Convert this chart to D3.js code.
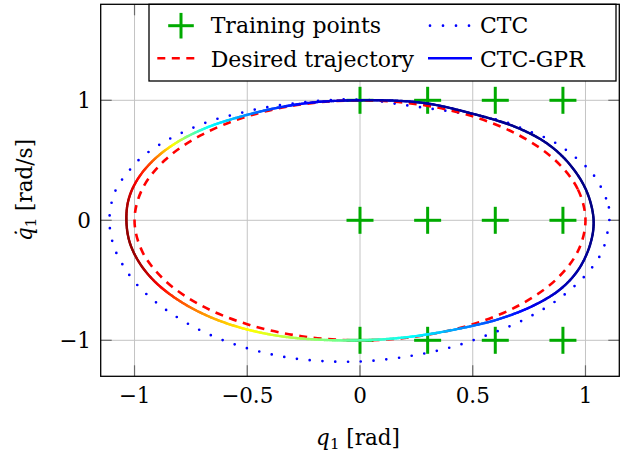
<!DOCTYPE html>
<html lang="en">
<head>
<meta charset="UTF-8">
<title>CTC vs CTC-GPR phase portrait</title>
<script src="https://d3js.org/d3.v7.min.js"></script>
<style>
  body { margin: 0; background: #fff; }
  svg { display: block; font-family: "DejaVu Serif", "Liberation Serif", serif; }
  .grid line { stroke: #c4c4c4; stroke-width: 1; }
  .tickmark { stroke: #6a6a6a; stroke-width: 1.2; }
</style>
</head>
<body>
<div id="chart"></div>
<script>
// axis ticks
const xTicks = [-1, -0.5, 0, 0.5, 1];
const yTicks = [-1, 0, 1];

// training inputs (grid of q1 x q1dot)
const trainQ = [0, 0.3, 0.6, 0.9];
const trainQd = [-1, 0, 1];

// desired trajectory
const desQ  = [1, 0.966, 0.866, 0.707, 0.5, 0.259, 0, -0.259, -0.5, -0.707, -0.866, -0.966,
               -1, -0.966, -0.866, -0.707, -0.5, -0.259, 0, 0.259, 0.5, 0.707, 0.866, 0.966];
const desQd = [0, 0.259, 0.5, 0.707, 0.866, 0.966, 1, 0.966, 0.866, 0.707, 0.5, 0.259,
               0, -0.259, -0.5, -0.707, -0.866, -0.966, -1, -0.966, -0.866, -0.707, -0.5, -0.259];

// CTC response (blue dotted)
const ctcQ  = [1.107, 1.091, 1.036, 0.95, 0.853, 0.745, 0.634, 0.518, 0.403, 0.289, 0.17, 0.052,
               -0.077, -0.195, -0.312, -0.429, -0.546, -0.657, -0.767, -0.873, -0.969, -1.009,
               -1.048, -1.08, -1.1, -1.11, -1.11, -1.1, -1.081, -1.054, -1.021, -0.984, -0.943,
               -0.898, -0.849, -0.749, -0.641, -0.531, -0.417, -0.302, -0.183, -0.065, 0.052,
               0.229, 0.4, 0.567, 0.728, 0.882, 1.012, 1.076, 1.103];
const ctcQd = [0.07, 0.183, 0.377, 0.533, 0.66, 0.746, 0.826, 0.871, 0.907, 0.937, 0.968, 1.0,
               1.007, 0.993, 0.97, 0.937, 0.887, 0.832, 0.749, 0.649, 0.524, 0.446,
               0.358, 0.266, 0.16, 0.05, -0.053, -0.164, -0.27, -0.366, -0.461, -0.547, -0.622,
               -0.694, -0.761, -0.877, -0.974, -1.049, -1.107, -1.149, -1.171, -1.179, -1.171,
               -1.129, -1.06, -0.955, -0.827, -0.655, -0.433, -0.25, -0.039];

// CTC-GPR response (coloured solid)
const gprQ  = [1.036, 1.006, 0.933, 0.829, 0.688, 0.496, 0.296, 0.1, -0.18, -0.354, -0.518,
               -0.675, -0.808, -0.912, -0.985, -1.026, -1.036, -1.022, -0.978, -0.905, -0.8,
               -0.672, -0.52, -0.355, -0.18, 0, 0.148, 0.296, 0.488, 0.622, 0.77, 0.888, 0.969, 1.021];
const gprQd = [0, 0.238, 0.46, 0.641, 0.779, 0.89, 0.974, 1.0, 0.987, 0.942, 0.87,
               0.776, 0.654, 0.508, 0.346, 0.176, 0, -0.18, -0.355, -0.52, -0.672,
               -0.8, -0.9, -0.965, -0.995, -1.0, -0.985, -0.952, -0.884, -0.82, -0.71, -0.575, -0.41, -0.2];

// colour level (0..1 on jet) along the CTC-GPR curve, by polar angle in degrees
const gprAngle = [0, 60, 90, 100, 110, 118, 125, 131, 137, 142, 147, 153, 162, 172, 180,
                  195, 205, 212, 220, 230, 240, 250, 260, 270, 283, 293, 305, 318, 330, 345, 360];
const gprLevel = [0, 0.02, 0.05, 0.1, 0.16, 0.24, 0.32, 0.38, 0.48, 0.6, 0.7, 0.8, 0.88, 0.95, 0.98,
                  0.98, 0.94, 0.88, 0.8, 0.72, 0.64, 0.57, 0.51, 0.46, 0.38, 0.3, 0.2, 0.1, 0.05, 0.02, 0];

function draw() {
    const W = 623, H = 452;
    const pl = 100.7, pr = 619.3, pt = 4.3, pb = 376.3;

    const svg = d3.select("#chart").append("svg").attr("width", W).attr("height", H);

    const x = d3.scaleLinear().domain([-1.15, 1.15]).range([pl, pr]);
    const y = d3.scaleLinear().domain([-1.3, 1.8]).range([pb, pt]);
    const fmt = d3.format("");

    const jet = d3.scaleLinear()
        .domain([0, 0.125, 0.375, 0.625, 0.875, 1])
        .range(["#000080", "#0000ff", "#00ffff", "#ffff00", "#ff0000", "#800000"]);
    const levelAt = d3.scaleLinear().domain(gprAngle).range(gprLevel).clamp(true);

    // grid
    const grid = svg.append("g").attr("class", "grid");
    grid.selectAll(".gx").data(xTicks).enter().append("line")
        .attr("x1", (d) => x(d)).attr("x2", (d) => x(d)).attr("y1", pt).attr("y2", pb);
    grid.selectAll(".gy").data(yTicks).enter().append("line")
        .attr("y1", (d) => y(d)).attr("y2", (d) => y(d)).attr("x1", pl).attr("x2", pr);

    // inner tick marks on all four sides
    const tl = 11;
    const ticks = svg.append("g");
    xTicks.forEach((d) => {
        ticks.append("line").attr("class", "tickmark").attr("x1", x(d)).attr("x2", x(d)).attr("y1", pb).attr("y2", pb - tl);
        ticks.append("line").attr("class", "tickmark").attr("x1", x(d)).attr("x2", x(d)).attr("y1", pt).attr("y2", pt + tl);
    });
    yTicks.forEach((d) => {
        ticks.append("line").attr("class", "tickmark").attr("y1", y(d)).attr("y2", y(d)).attr("x1", pl).attr("x2", pl + tl);
        ticks.append("line").attr("class", "tickmark").attr("y1", y(d)).attr("y2", y(d)).attr("x1", pr).attr("x2", pr - tl);
    });

    // tick labels
    svg.append("g").selectAll("text").data(xTicks).enter().append("text")
        .attr("x", (d) => x(d)).attr("y", 403).attr("text-anchor", "middle")
        .attr("font-size", 21.5).text((d) => fmt(d));
    svg.append("g").selectAll("text").data(yTicks).enter().append("text")
        .attr("x", 91).attr("y", (d) => y(d) + 7.8).attr("text-anchor", "end")
        .attr("font-size", 21.5).text((d) => fmt(d));

    // axis labels
    const xl = svg.append("text").attr("x", 358).attr("y", 445).attr("text-anchor", "middle").attr("font-size", 21.5);
    xl.append("tspan").attr("font-style", "italic").text("q");
    xl.append("tspan").attr("font-size", 15).attr("dy", 4).text("1");
    xl.append("tspan").attr("dy", -4).text(" [rad]");

    const yl = svg.append("text").attr("transform", "translate(32,190) rotate(-90)")
        .attr("text-anchor", "middle").attr("font-size", 21.5);
    yl.append("tspan").attr("font-style", "italic").text("q\u0307");
    yl.append("tspan").attr("font-size", 15).attr("dy", 4).text("1");
    yl.append("tspan").attr("dy", -4).text(" [rad/s]");

    // training points
    const cross = (g, cx, cy, r) => {
        g.append("line").attr("x1", cx - r).attr("x2", cx + r).attr("y1", cy).attr("y2", cy);
        g.append("line").attr("x1", cx).attr("x2", cx).attr("y1", cy - r).attr("y2", cy + r);
    };
    const tp = svg.append("g").attr("stroke", "#00aa00").attr("stroke-width", 3);
    trainQd.forEach((qd) => trainQ.forEach((q) => cross(tp, x(q), y(qd), 13.5)));

    const closed = d3.line().x((d) => x(d[0])).y((d) => y(d[1])).curve(d3.curveCatmullRomClosed.alpha(0.5));

    // CTC dotted
    svg.append("path")
        .attr("d", closed(ctcQ.map((q, i) => [q, ctcQd[i]])))
        .attr("fill", "none").attr("stroke", "#0000ff").attr("stroke-width", 2.7)
        .attr("stroke-linecap", "round").attr("stroke-dasharray", "0 12.8");

    // desired dashed
    svg.append("path")
        .attr("d", closed(desQ.map((q, i) => [q, desQd[i]])))
        .attr("fill", "none").attr("stroke", "#ff0000").attr("stroke-width", 2.6)
        .attr("stroke-dasharray", "8 6.5");

    // CTC-GPR coloured by jet along the curve
    const guide = svg.append("path")
        .attr("d", closed(gprQ.map((q, i) => [q, gprQd[i]])))
        .attr("fill", "none").attr("stroke", "none");
    const gnode = guide.node();
    const glen = gnode.getTotalLength();
    const nSeg = 720;
    const pts = d3.range(nSeg + 1).map((i) => gnode.getPointAtLength(glen * i / nSeg));
    const gseg = svg.append("g").attr("stroke-width", 2.4).attr("stroke-linecap", "round");
    for (let i = 0; i < nSeg; i++) {
        const a = pts[i], b = pts[i + 1];
        const mq = x.invert((a.x + b.x) / 2), mqd = y.invert((a.y + b.y) / 2);
        const ang = (Math.atan2(mqd, mq) * 180 / Math.PI + 360) % 360;
        gseg.append("line").attr("x1", a.x).attr("y1", a.y).attr("x2", b.x).attr("y2", b.y)
            .attr("stroke", jet(levelAt(ang)));
    }

    // legend
    const lg = svg.append("g");
    lg.append("rect").attr("x", 149).attr("y", pt).attr("width", 616 - 149).attr("height", 81 - pt)
        .attr("fill", "#fff").attr("stroke", "#000").attr("stroke-width", 1.3);
    const r1 = 25.7, r2 = 58.3;
    const lcross = lg.append("g").attr("stroke", "#00aa00").attr("stroke-width", 3);
    cross(lcross, 181, r1, 12.8);
    lg.append("line").attr("x1", 157.3).attr("x2", 198.3).attr("y1", r2).attr("y2", r2)
        .attr("stroke", "#ff0000").attr("stroke-width", 2.6).attr("stroke-dasharray", "8 6.5");
    lg.append("line").attr("x1", 430).attr("x2", 470).attr("y1", r1).attr("y2", r1)
        .attr("stroke", "#0000ff").attr("stroke-width", 2.7).attr("stroke-linecap", "round")
        .attr("stroke-dasharray", "0 13");
    lg.append("line").attr("x1", 428).attr("x2", 472).attr("y1", r2).attr("y2", r2)
        .attr("stroke", "#0000ff").attr("stroke-width", 2.4);
    const labels = [["Training points", 210.7, 33], ["CTC", 480, 33],
                    ["Desired trajectory", 210.7, 66.5], ["CTC-GPR", 480, 66.5]];
    lg.selectAll("text.lbl").data(labels).enter().append("text")
        .attr("x", (d) => d[1]).attr("y", (d) => d[2]).attr("font-size", 22).text((d) => d[0]);

    // frame
    svg.append("rect").attr("x", pl).attr("y", pt).attr("width", pr - pl).attr("height", pb - pt)
        .attr("fill", "none").attr("stroke", "#000").attr("stroke-width", 1.3);
}

draw();
</script>
</body>
</html>
